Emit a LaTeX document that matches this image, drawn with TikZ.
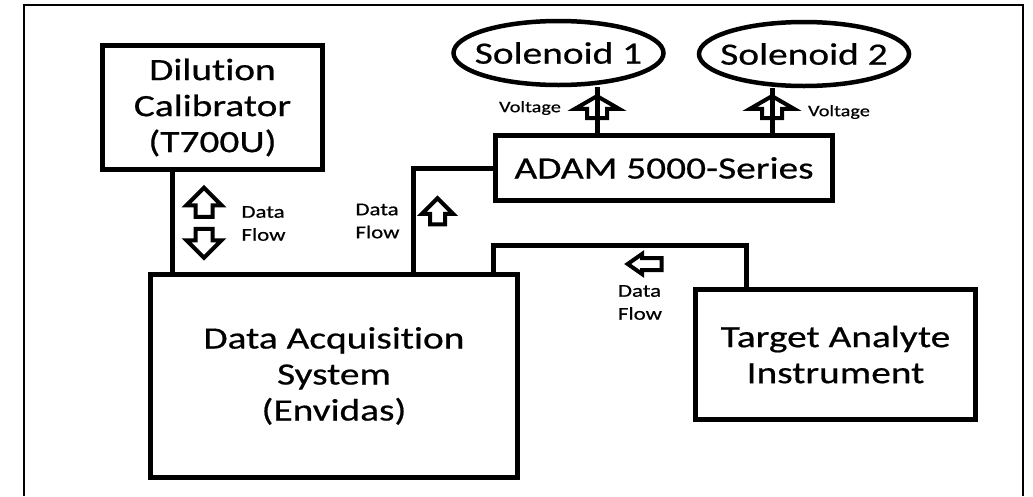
\documentclass[tikz,border=0pt]{standalone}
\usepackage{fontspec}
\setmainfont{Carlito}[FakeStretch=1.27, FakeBold=0.6, RawFeature=-liga]
\usetikzlibrary{shapes.geometric,shapes.arrows}

\begin{document}
\begin{tikzpicture}[x=1pt,y=-1pt,
		box/.style={draw, line width=5pt, inner sep=0pt, align=center, font=\fontsize{31}{36}\selectfont},
		sol/.style={draw, ellipse, line width=4.5pt, inner sep=0pt, minimum width=210pt, minimum height=64pt, font=\fontsize{31}{36}\selectfont},
		fat/.style={draw, single arrow, line width=4pt, fill=white, inner xsep=0pt},
		lbl/.style={align=left, inner sep=0pt, font=\fontsize{18}{23}\selectfont},
		wire/.style={line width=5pt}]
		\useasboundingbox (0,0) rectangle (1033,496);
		\draw[line width=2pt] (24,496) -- (24,5) -- (1023,5) -- (1023,496);

		\node[box, minimum width=220pt, minimum height=124pt] (dil) at (212.5,107.5) {Dilution\\Calibrator\\(T700U)};
		\node[box, minimum width=337pt, minimum height=65pt] (adam) at (664,168) {ADAM 5000-Series};
		\node[box, minimum width=367pt, minimum height=203pt] (das) at (334,376) {Data Acquisition\\System\\(Envidas)};
		\node[box, minimum width=280pt, minimum height=130pt] (tai) at (835.5,354.5) {Target Analyte\\Instrument};

		\node[sol] (sol1) at (558.5,53) {\makebox[0pt]{Solenoid 1}};
		\node[sol] (sol2) at (804,54) {\makebox[0pt]{Solenoid 2}};

		\node[fat, rotate=90, minimum height=29pt, inner ysep=6.5pt, single arrow head extend=9pt] (dup) at (204,206.5) {};
		\node[fat, rotate=-90, minimum height=29pt, inner ysep=6.5pt, single arrow head extend=9pt] (ddown) at (204,239) {};
		\node[fat, rotate=90, minimum height=26pt, inner ysep=5.5pt, single arrow head extend=8pt] (dfa) at (437.5,215) {};
		\node[fat, rotate=180, minimum height=34pt, inner ysep=4pt, single arrow head extend=4pt, single arrow tip angle=70] (dfl) at (649,264) {};
		\node[fat, rotate=90, minimum height=22pt, inner ysep=8pt, single arrow head extend=12pt, single arrow tip angle=120] (v1) at (597,110) {};
		\node[fat, rotate=90, minimum height=22pt, inner ysep=8pt, single arrow head extend=12pt, single arrow tip angle=120] (v2) at (772,110) {};

		\node[lbl] (ldil) at (263.5,223.5) {Data\\Flow};
		\node[lbl] (ladam) at (377.5,221) {Data\\Flow};
		\node[lbl] (ltai) at (640,302.5) {Data\\Flow};
		\node[lbl, font=\fontsize{16}{20}\selectfont] (lv1) at (530,108) {Voltage};
		\node[lbl, font=\fontsize{16}{20}\selectfont] (lv2) at (839,112) {Voltage};

		\draw[wire] ([xshift=-40.5pt]dil.south) -- ([xshift=-40.5pt]dil.south |- das.north);
		\draw[wire] (adam.west) -| ([xshift=79pt]das.north);
		\coordinate (bend) at (746,245);
		\draw[wire] ([xshift=159pt]das.north) |- (bend) -- (bend |- tai.north);
		\draw[wire] ([xshift=-67pt]adam.north) -- ([xshift=-67pt]adam.north |- sol1.south);
		\draw[wire] ([xshift=108pt]adam.north) -- ([xshift=108pt]adam.north |- sol2.south);
	\end{tikzpicture}
\end{document}
